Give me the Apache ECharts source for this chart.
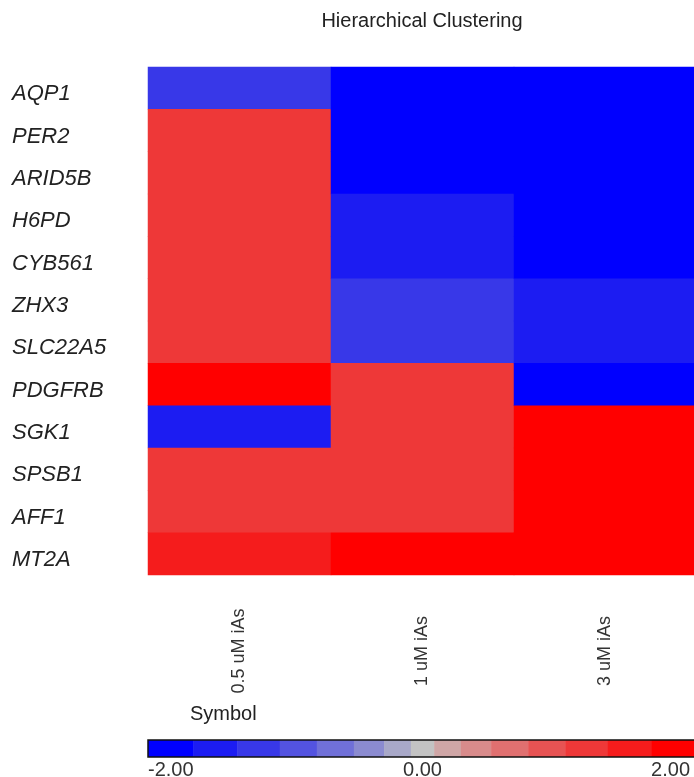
<!DOCTYPE html>
<html>
<head>
<meta charset="utf-8">
<script src="https://cdn.jsdelivr.net/npm/echarts@6/dist/echarts.min.js"></script>
<style>
html,body{margin:0;padding:0;background:#fff;}
#chart{width:694px;height:777px;}
</style>
</head>
<body>
<div id="chart"></div>
<script>
const genes = ['AQP1','PER2','ARID5B','H6PD','CYB561','ZHX3','SLC22A5','PDGFRB','SGK1','SPSB1','AFF1','MT2A'];
const conditions = ['0.5 uM iAs','1 uM iAs','3 uM iAs'];
// values per gene: [0.5 uM, 1 uM, 3 uM]
const v05 = [-1.2, 1.2, 1.2, 1.2, 1.2, 1.2, 1.2, 2.1, -1.5, 1.2, 1.2, 1.5];
const v1  = [-2.2, -2.1, -2.0, -1.5, -1.5, -1.2, -1.2, 1.2, 1.2, 1.2, 1.2, 2.0];
const v3  = [-2.3, -2.4, -2.2, -2.1, -2.0, -1.5, -1.5, -2.2, 2.0, 2.1, 2.2, 2.3];
// colour scale bins
const binEdges = [-2, -1.67, -1.35, -1.04, -0.77, -0.5, -0.28, -0.085, 0.085, 0.28, 0.5, 0.77, 1.04, 1.35, 1.67, 2];
const binColors = ['#0000ff','#1c1cf2','#3838e8','#5353e0','#7070d8','#8b8bd0','#a8a8c8','#c3c3c3',
                   '#cfa6a6','#d88b8b','#e07070','#e75353','#ee3838','#f51c1c','#ff0000'];
const scaleTicks = [-2, 0, 2];

const cols = [v05, v1, v3];
const heatData = [];
cols.forEach((arr, ci) => arr.forEach((v, gi) => heatData.push([ci, gi, v])));

const pieces = binColors.map((c, i) => {
  const p = {color: c};
  if (i > 0) p.gte = binEdges[i];
  if (i < binColors.length - 1) p.lt = binEdges[i + 1];
  return p;
});
const barData = binColors.map((c, i) => [binEdges[i], binEdges[i + 1], i]);

const FONT = "'Liberation Sans', Arial, sans-serif";
const chart = echarts.init(document.getElementById('chart'));
chart.setOption({
  animation: false,
  backgroundColor: '#fff',
  title: [
    {text: 'Hierarchical Clustering', left: 422, top: 11, textAlign: 'center', padding: 0,
     textStyle: {fontFamily: FONT, fontSize: 20, fontWeight: 'normal', color: '#222'}},
    {text: 'Symbol', left: 190, top: 704, padding: 0,
     textStyle: {fontFamily: FONT, fontSize: 20, fontWeight: 'normal', color: '#222'}}
  ],
  grid: [
    {left: 148, width: 549, top: 67, height: 508, outerBoundsMode: 'none', containLabel: false},
    {left: 148, width: 549, top: 740, height: 17, outerBoundsMode: 'none', containLabel: false,
     show: true, borderColor: '#111', borderWidth: 1.5, backgroundColor: 'transparent', z: 3}
  ],
  xAxis: [
    {type: 'category', gridIndex: 0, data: conditions,
     axisLine: {show: false}, axisTick: {show: false}, splitLine: {show: false},
     axisLabel: {rotate: 90, align: 'center', verticalAlign: 'middle', margin: 76,
                 fontFamily: FONT, fontSize: 18, color: '#333', interval: 0}},
    {type: 'value', gridIndex: 1, min: -2, max: 2, interval: 2,
     axisLine: {show: false}, axisTick: {show: false}, splitLine: {show: false},
     axisLabel: {margin: 3, fontFamily: FONT, fontSize: 20, color: '#333',
                 alignMinLabel: 'left', alignMaxLabel: 'right',
                 formatter: v => (v === 2 ? '{r|' : '{n|') + v.toFixed(2) + '}',
                 rich: {n: {fontFamily: FONT, fontSize: 20, color: '#333'},
                        r: {fontFamily: FONT, fontSize: 20, color: '#333', padding: [0, 7, 0, 0]}}}}
  ],
  yAxis: [
    {type: 'category', gridIndex: 0, data: genes, inverse: true,
     axisLine: {show: false}, axisTick: {show: false}, splitLine: {show: false},
     axisLabel: {align: 'left', margin: 136, interval: 0,
                 formatter: v => '{g|' + v + '}',
                 rich: {g: {fontFamily: FONT, fontSize: 22, fontStyle: 'italic', color: '#222',
                            padding: [12, 0, 0, 0]}}}},
    {type: 'category', gridIndex: 1, data: ['bar'], show: false}
  ],
  visualMap: {type: 'piecewise', show: false, seriesIndex: 0, dimension: 2, pieces: pieces},
  series: [
    {type: 'heatmap', xAxisIndex: 0, yAxisIndex: 0, data: heatData, itemStyle: {borderWidth: 0}},
    {type: 'custom', xAxisIndex: 1, yAxisIndex: 1, data: barData,
     renderItem: (params, api) => {
       const a = api.coord([api.value(0), 0]);
       const b = api.coord([api.value(1), 0]);
       const h = api.size([0, 1])[1];
       return {type: 'rect', shape: {x: a[0], y: a[1] - h / 2, width: b[0] - a[0] + 0.5, height: h},
               style: {fill: binColors[api.value(2)]}};
     }}
  ]
});
</script>
</body>
</html>
